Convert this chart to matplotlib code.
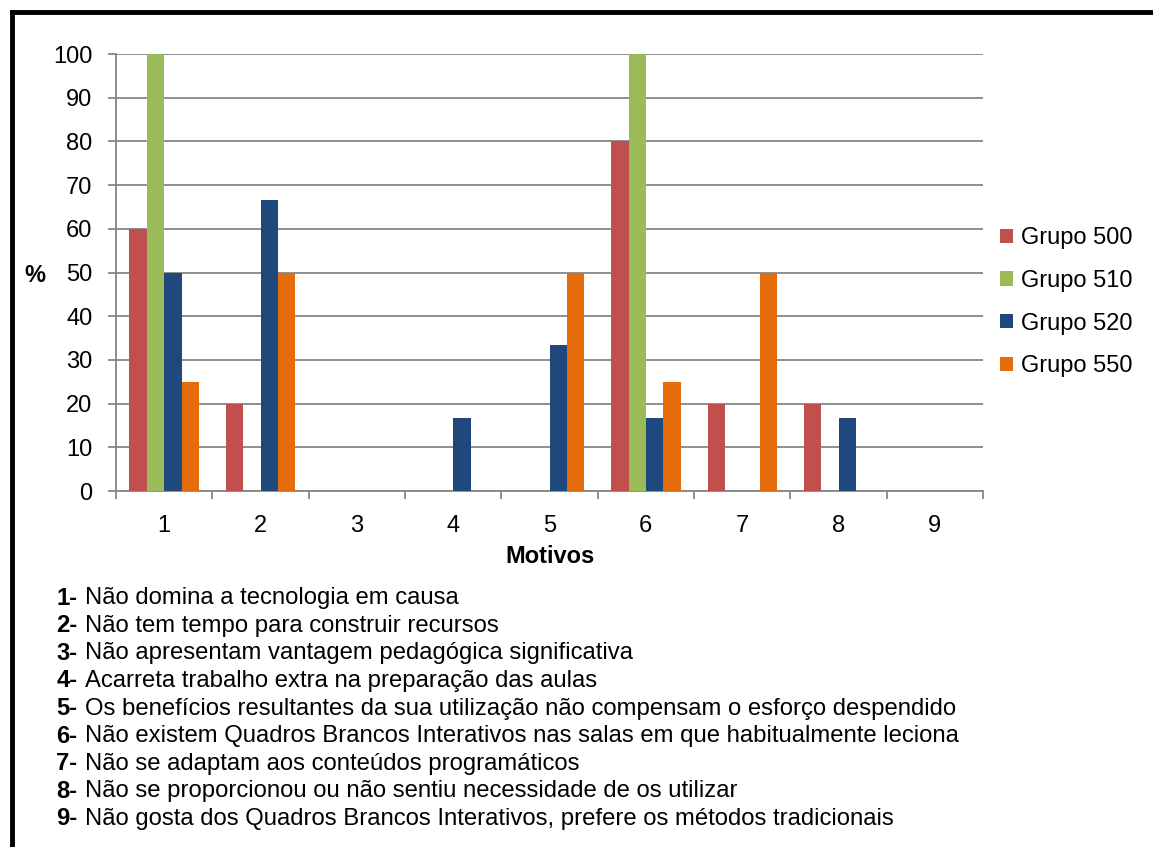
import numpy as np
import matplotlib.pyplot as plt
from matplotlib.lines import Line2D

plt.rcParams['font.family'] = ['Liberation Sans', 'DejaVu Sans']

# -----------------------------
# Data
# -----------------------------
motivos = ['1', '2', '3', '4', '5', '6', '7', '8', '9']
grupos = ['Grupo 500', 'Grupo 510', 'Grupo 520', 'Grupo 550']
g500 = [60, 20, 0, 0, 0, 80, 20, 20, 0]
g510 = [100, 0, 0, 0, 0, 100, 0, 0, 0]
g520 = [50, 66.7, 0, 16.7, 33.3, 16.7, 0, 16.7, 0]
g550 = [25, 50, 0, 0, 50, 25, 50, 0, 0]
series = [g500, g510, g520, g550]
colors = ['#C0504D', '#9BBB59', '#1F497D', '#E46C0A']

legenda = [
    ('1-', 'Não domina a tecnologia em causa'),
    ('2-', 'Não tem tempo para construir recursos'),
    ('3-', 'Não apresentam vantagem pedagógica significativa'),
    ('4-', 'Acarreta trabalho extra na preparação das aulas'),
    ('5-', 'Os benefícios resultantes da sua utilização não compensam o esforço despendido'),
    ('6-', 'Não existem Quadros Brancos Interativos nas salas em que habitualmente leciona'),
    ('7-', 'Não se adaptam aos conteúdos programáticos'),
    ('8-', 'Não se proporcionou ou não sentiu necessidade de os utilizar'),
    ('9-', 'Não gosta dos Quadros Brancos Interativos, prefere os métodos tradicionais'),
]

FS = 17

# -----------------------------
# Figure
# -----------------------------
fig = plt.figure(figsize=(11.53, 8.47), dpi=100)
ax = fig.add_axes([0.1006, 0.4203, 0.752, 0.5159])

x = np.arange(len(motivos))
w = 0.18
for i, (vals, c, name) in enumerate(zip(series, colors, grupos)):
    ax.bar(x + (i - 1.5) * w, vals, w, color=c, label=name, zorder=3)

ax.set_xlim(-0.5, len(motivos) - 0.5)
ax.set_ylim(0, 100)
ax.set_yticks(range(0, 101, 10))
ax.yaxis.grid(True, color='#868686', linewidth=1.3, zorder=0)
ax.set_xticks(x)
ax.set_xticklabels(motivos, fontsize=FS)
ax.set_xticks(np.arange(-0.5, len(motivos)), minor=True)
ax.tick_params(axis='x', which='major', length=0, pad=17)
ax.tick_params(axis='x', which='minor', length=6, width=1.3, color='#868686')
ax.tick_params(axis='y', length=6, width=1.3, color='#868686', labelsize=FS, pad=11)

for s in ['top', 'right']:
    ax.spines[s].set_visible(False)
for s in ['left', 'bottom']:
    ax.spines[s].set_color('#868686')
    ax.spines[s].set_linewidth(1.3)

ax.set_xlabel('Motivos', fontsize=FS, fontweight='bold', labelpad=6)
fig.text(0.021, 0.675, '%', fontsize=FS, fontweight='bold', va='center')

ax.legend(loc='center left', bbox_to_anchor=(1.0, 0.432), frameon=False,
          fontsize=FS, handlelength=0.55, handleheight=0.55, handletextpad=0.35,
          labelspacing=0.88, borderaxespad=0.3)

# numbered list of reasons below the chart
y0 = 0.2935
dy = 0.0325
for k, (num, txt) in enumerate(legenda):
    yy = y0 - k * dy
    fig.text(0.049, yy, num, fontsize=17.2, fontweight='bold', va='center')
    fig.text(0.0735, yy, txt, fontsize=17.2, va='center')

# frame around the figure
fig.add_artist(Line2D([0.0105, 1.0], [0.9858, 0.9858], color='black', linewidth=3.5))
fig.add_artist(Line2D([0.0105, 0.0105], [0.0, 0.9858], color='black', linewidth=3.5))

plt.savefig('out.png', dpi=100)
